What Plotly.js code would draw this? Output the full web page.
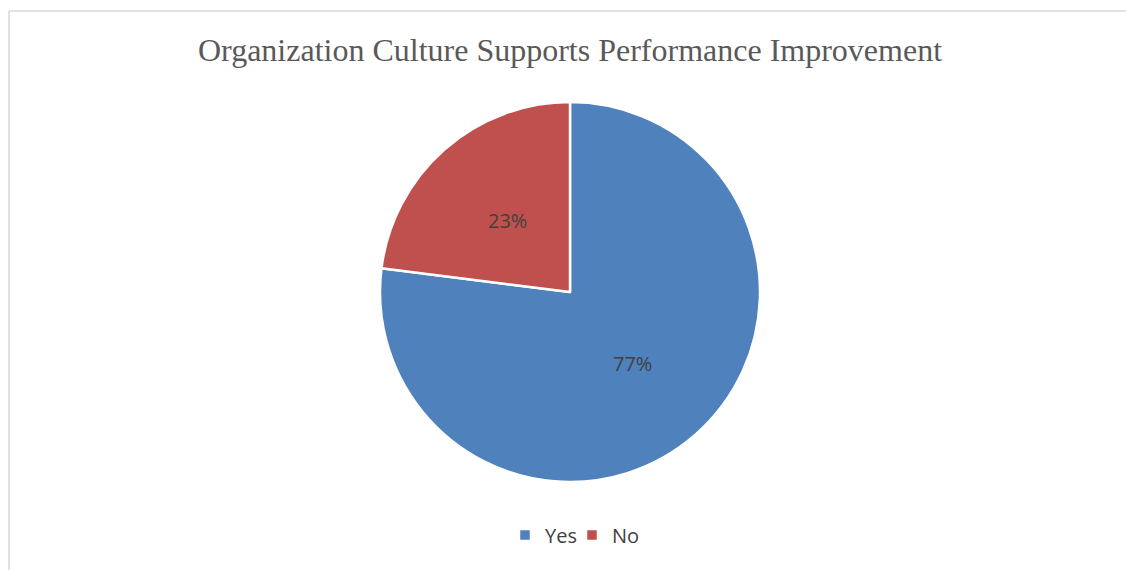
<!DOCTYPE html>
<html>
<head>
<meta charset="utf-8">
<script src="https://cdn.plot.ly/plotly-3.0.1.min.js"></script>
<style>html,body{margin:0;padding:0;background:#fff;}#chart{width:1126px;height:570px;}</style>
</head>
<body>
<div id="chart"></div>
<script>
const categories = ["Yes", "No"];
const values = [77, 23];
const colors = ["#4F81BD", "#C0504D"];
const titleText = "Organization Culture Supports Performance Improvement";

const W = 1126, H = 570;
const pieLeft = 380, pieRight = 760, pieTop = 102, pieBottom = 482;
const cx = (pieLeft + pieRight) / 2, cy = (pieTop + pieBottom) / 2, R = (pieBottom - pieTop) / 2;

const trace = {
  type: "pie",
  labels: categories,
  values: values,
  sort: false,
  direction: "clockwise",
  rotation: 0,
  marker: {colors: colors, line: {color: "#ffffff", width: 2.5}},
  textinfo: "none",
  hoverinfo: "label+percent",
  domain: {x: [pieLeft / W, pieRight / W], y: [(H - pieBottom) / H, (H - pieTop) / H]}
};

// data labels at the mid angle of each slice, half-way out
const total = values.reduce((a, b) => a + b, 0);
let cum = 0;
const annotations = values.map((v) => {
  const mid = (cum + v / 2) / total;
  cum += v;
  const th = mid * 2 * Math.PI;
  const px = cx + 0.5 * R * Math.sin(th);
  const py = cy - 0.5 * R * Math.cos(th);
  return {
    xref: "paper", yref: "paper", x: px / W, y: 1 - py / H,
    xanchor: "center", yanchor: "middle", showarrow: false,
    text: Math.round(v / total * 100) + "%",
    font: {family: "Open Sans, sans-serif", size: 20, color: "#404040"}
  };
});

const layout = {
  width: W, height: H,
  margin: {l: 0, r: 0, t: 0, b: 0},
  paper_bgcolor: "#ffffff",
  title: {text: titleText, x: 570 / W, xanchor: "center", y: 1 - 50 / H, yanchor: "middle",
    font: {family: "Liberation Serif, Times New Roman, serif", size: 32, color: "#595959"}},
  showlegend: true,
  legend: {orientation: "h", x: 572 / W, xanchor: "center", y: 1 - 535 / H, yanchor: "middle",
    font: {family: "Open Sans, sans-serif", size: 20, color: "#404040"},
    entrywidth: 22, entrywidthmode: "pixels", tracegroupgap: 0},
  annotations: annotations,
  shapes: [
    {type: "line", xref: "paper", yref: "paper", x0: 9 / W, x1: 1, y0: 1 - 11 / H, y1: 1 - 11 / H, line: {color: "#d9d9d9", width: 1.5}},
    {type: "line", xref: "paper", yref: "paper", x0: 9 / W, x1: 9 / W, y0: 0, y1: 1 - 11 / H, line: {color: "#d9d9d9", width: 1.5}}
  ]
};
Plotly.newPlot("chart", [trace], layout, {displayModeBar: false, staticPlot: true});
</script>
</body>
</html>
